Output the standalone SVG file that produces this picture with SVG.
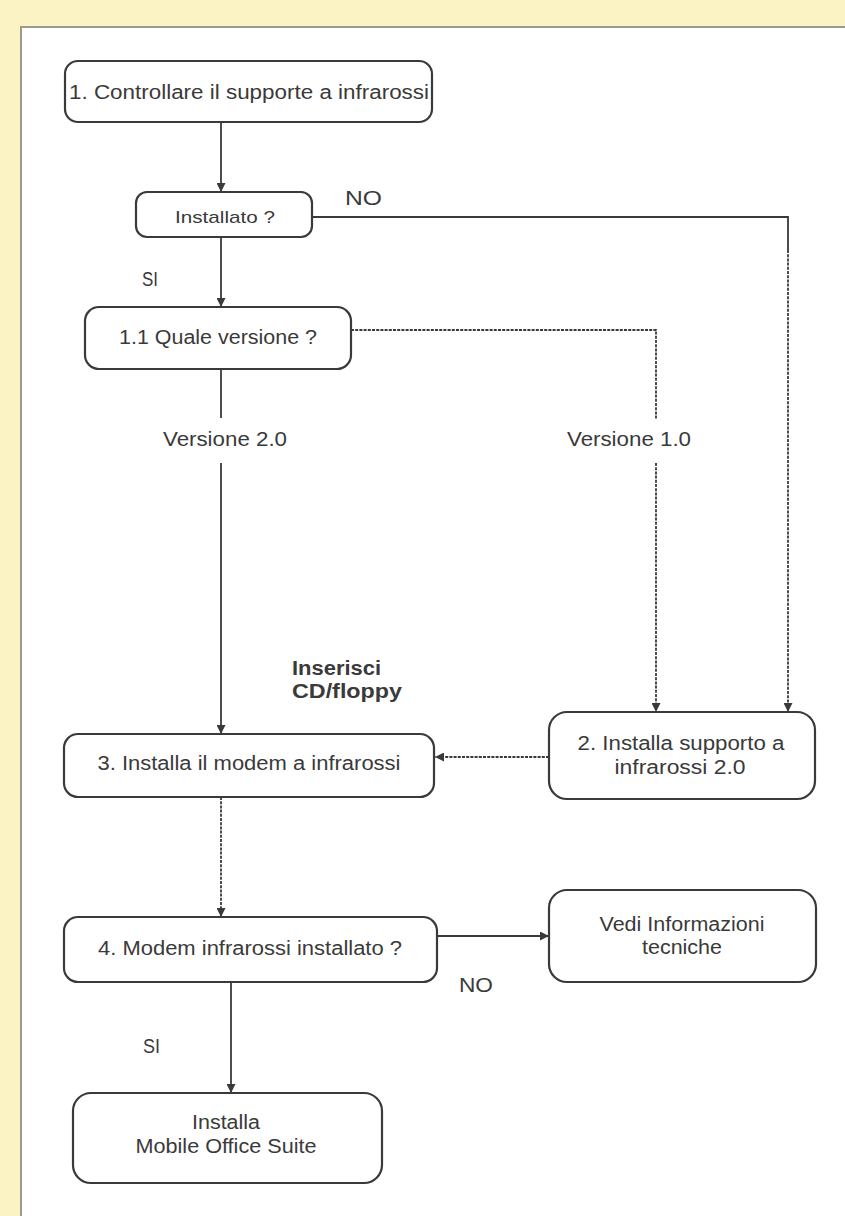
<svg xmlns="http://www.w3.org/2000/svg" width="845" height="1216" viewBox="0 0 845 1216">
<defs>
<style>
.box{fill:#ffffff;stroke:#3a3a3a;stroke-width:2.2}
.t{font-family:"Liberation Sans",Arial,sans-serif;font-size:20px;fill:#3a3a3a;text-anchor:middle}
.lbl{font-family:"Liberation Sans",Arial,sans-serif;font-size:20px;fill:#3a3a3a}
.b{font-weight:bold}
.c{fill:none;stroke:#3a3a3a;stroke-width:1.8}
.d{stroke-dasharray:3 1.2}
</style>
<marker id="ah" viewBox="0 0 10 10" refX="10" refY="5" markerWidth="9" markerHeight="9" markerUnits="userSpaceOnUse" orient="auto">
<path d="M0,0 L10,5 L0,10 z" fill="#3a3a3a"/>
</marker>
</defs>
<rect x="0" y="0" width="845" height="1216" fill="#fbf3c4"/>
<rect x="21" y="27" width="824" height="1189" fill="#ffffff"/>
<path d="M21,1216 V27 H845" fill="none" stroke="#9a9a90" stroke-width="2"/>

<g id="connectors">
<path class="c" d="M221,122 V192" marker-end="url(#ah)"/>
<path class="c" d="M221,237 V307" marker-end="url(#ah)"/>
<path class="c" d="M312,217 H788 V250"/>
<path class="c d" d="M788,250 V712" marker-end="url(#ah)"/>
<path class="c d" d="M351,330 H656 V419"/>
<path class="c d" d="M656,463 V712" marker-end="url(#ah)"/>
<path class="c" d="M221,369 V418"/>
<path class="c" d="M221,463 V734" marker-end="url(#ah)"/>
<path class="c d" d="M549,757 H435" marker-end="url(#ah)"/>
<path class="c d" d="M221,797 V917" marker-end="url(#ah)"/>
<path class="c" d="M437,936 H549" marker-end="url(#ah)"/>
<path class="c" d="M231,982 V1093" marker-end="url(#ah)"/>
</g>

<g id="labels">
<text class="lbl" x="345" y="205" textLength="37" lengthAdjust="spacingAndGlyphs">NO</text>
<text class="lbl" x="142" y="286" textLength="16" lengthAdjust="spacingAndGlyphs">SI</text>
<text class="lbl" x="163" y="446" textLength="124" lengthAdjust="spacingAndGlyphs">Versione 2.0</text>
<text class="lbl" x="567" y="446" textLength="124" lengthAdjust="spacingAndGlyphs">Versione 1.0</text>
<text class="lbl b" x="292" y="675" textLength="89" lengthAdjust="spacingAndGlyphs">Inserisci</text>
<text class="lbl b" x="292" y="698" textLength="110" lengthAdjust="spacingAndGlyphs">CD/floppy</text>
<text class="lbl" x="459" y="992" textLength="34" lengthAdjust="spacingAndGlyphs">NO</text>
<text class="lbl" x="143" y="1053" textLength="17" lengthAdjust="spacingAndGlyphs">SI</text>
</g>

<g id="n1">
<rect class="box" x="65" y="61" width="367" height="61" rx="13"/>
<text class="t" x="249" y="99" textLength="360" lengthAdjust="spacingAndGlyphs">1. Controllare il supporte a infrarossi</text>
</g>
<g id="n_installato">
<rect class="box" x="136" y="192" width="176" height="45" rx="11"/>
<text class="t" x="225" y="223" style="font-size:17px" textLength="100" lengthAdjust="spacingAndGlyphs">Installato ?</text>
</g>
<g id="n1_1">
<rect class="box" x="85" y="307" width="266" height="62" rx="14"/>
<text class="t" x="218" y="344" textLength="198" lengthAdjust="spacingAndGlyphs">1.1 Quale versione ?</text>
</g>
<g id="n2">
<rect class="box" x="549" y="712" width="266" height="87" rx="18"/>
<text class="t" x="681" y="750" textLength="207" lengthAdjust="spacingAndGlyphs">2. Installa supporto a</text>
<text class="t" x="680" y="774" textLength="131" lengthAdjust="spacingAndGlyphs">infrarossi 2.0</text>
</g>
<g id="n3">
<rect class="box" x="64" y="734" width="370" height="63" rx="14"/>
<text class="t" x="249" y="770" textLength="303" lengthAdjust="spacingAndGlyphs">3. Installa il modem a infrarossi</text>
</g>
<g id="n4">
<rect class="box" x="64" y="917" width="373" height="65" rx="14"/>
<text class="t" x="250" y="955" textLength="304" lengthAdjust="spacingAndGlyphs">4. Modem infrarossi installato ?</text>
</g>
<g id="n_vedi">
<rect class="box" x="549" y="890" width="267" height="92" rx="18"/>
<text class="t" x="682" y="931" textLength="165" lengthAdjust="spacingAndGlyphs">Vedi Informazioni</text>
<text class="t" x="682" y="954" textLength="80" lengthAdjust="spacingAndGlyphs">tecniche</text>
</g>
<g id="n5">
<rect class="box" x="73" y="1093" width="309" height="90" rx="18"/>
<text class="t" x="226" y="1129" textLength="68" lengthAdjust="spacingAndGlyphs">Installa</text>
<text class="t" x="226" y="1153" textLength="181" lengthAdjust="spacingAndGlyphs">Mobile Office Suite</text>
</g>
</svg>
